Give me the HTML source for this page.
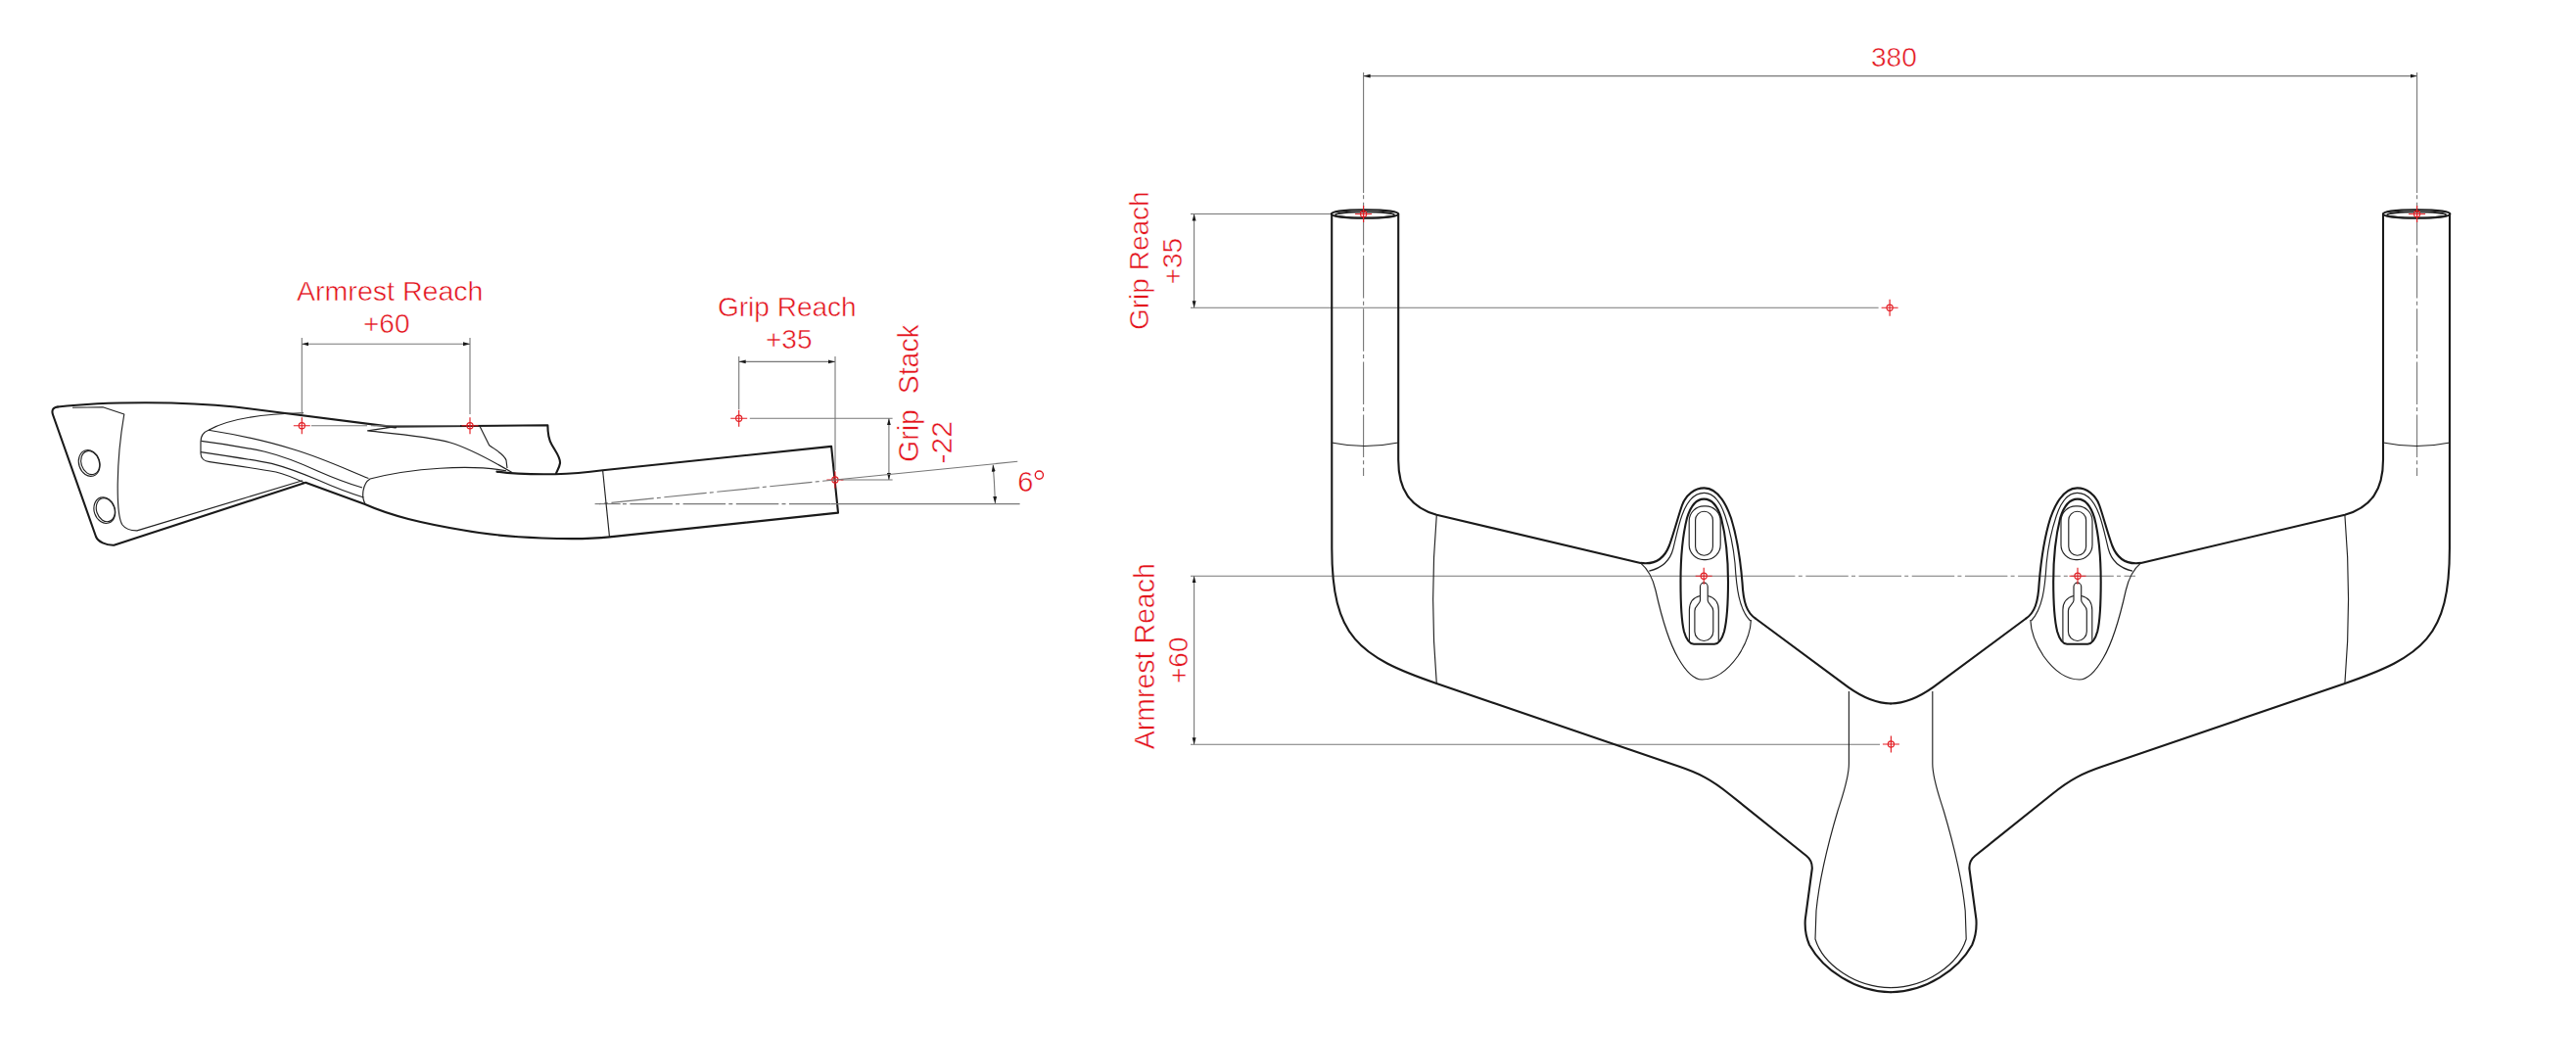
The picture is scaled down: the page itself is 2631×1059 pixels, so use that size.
<!DOCTYPE html>
<html><head><meta charset="utf-8"><style>
html,body{margin:0;padding:0;background:#fff;width:2631px;height:1059px;overflow:hidden}
svg{display:block}
.k{fill:none;stroke:#1a1a1a;stroke-width:2.1;stroke-linejoin:round;stroke-linecap:round}
.t{fill:none;stroke:#222;stroke-width:1.15;stroke-linejoin:round}
.d{fill:none;stroke:#777;stroke-width:1.1}
.dp{stroke-dasharray:4 3.5 43.5 3.2}
.dd{fill:none;stroke:#6a6a6a;stroke-width:1;stroke-dasharray:40 8 8 8}
.r{fill:none;stroke:#e31e24;stroke-width:1.15}
text{font-family:"Liberation Sans",sans-serif;font-size:28px;fill:#e3121c;stroke:#fff;stroke-width:0.5}
</style></head><body>
<svg width="2631" height="1059" viewBox="0 0 2631 1059">
<defs>
<marker id="a" viewBox="0 0 10 10" refX="10" refY="5" markerWidth="7" markerHeight="7" markerUnits="userSpaceOnUse" orient="auto-start-reverse"><path d="M0,2.2 L10,5 L0,7.8 Z" fill="#1a1a1a"/></marker>
<g id="x"><circle cx="0" cy="0" r="3.1" class="r"/><path d="M-8.5,0 H8.5 M0,-8.5 V8.5" class="r"/></g>
<g id="half">
<!-- tube -->
<ellipse class="k" cx="1394" cy="218.5" rx="34.2" ry="4.3"/>
<ellipse class="t" cx="1394" cy="219.4" rx="30" ry="3" style="stroke-width:1.8"/>
<path class="k" d="M1428.2,218.5 L1428.2,469.4 C1428.2,500 1440,518 1467.3,525.8 L1675.5,574.9 C1690,577 1700,570 1705,557 C1710,543 1714.4,526 1718,516 C1722,505 1731,498.4 1740.6,498.4 C1753,498.4 1762,512 1768,529 C1773,545 1777,565 1779.5,595 C1780.5,615 1784,626 1793.5,632 L1887.5,701.7 C1902,712 1916,718.5 1931.1,718.5"/>
<path class="k" d="M1360.2,218.5 L1360.3,560 C1360.3,650 1387.3,670.5 1467.3,697.9 L1715,782.8 C1735,789.6 1748,796 1766.3,811 L1845,874 C1850,878 1851,882 1850.8,887 L1843.8,938.8 C1843,950 1845,958 1848,965 C1862,990 1895,1013.2 1931.1,1013.2"/>
<path class="t" d="M1359.8,452 Q1394,459 1428.2,452"/>
<path class="t" d="M1467.3,526 Q1460,612 1467.3,698"/>
<!-- boss -->
<path class="t" d="M1684.3,583.1 C1698,580 1706,572 1709,560 C1712,548 1714,537 1718,526 C1723,512 1731,503.4 1740.6,503.4 C1750,503.4 1757,512 1762,527 C1767,542 1770,555 1772,575 C1773.5,600 1776,622 1787.7,634"/>
<path class="t" d="M1675.5,574.9 C1683,581 1688,590 1691,603 C1697,630 1704,655 1714,672 C1722,686 1730,694 1738.4,694 C1752,694 1765,684 1775,670 C1783,658 1788,645 1788.4,633"/>
<path class="k" d="M1740.3,509.6 C1733,509.6 1727,516 1723,529 C1719,545 1716.5,570 1716.5,594 C1716.5,615 1717.5,635 1720,645 C1722,652 1725,657.5 1730,657.8 L1751,657.8 C1756,657.5 1759,652 1761,645 C1763.5,635 1765,615 1765,594 C1765,570 1762,545 1758,529 C1754,516 1748,509.6 1740.3,509.6 Z"/>
<rect class="t" x="1731.6" y="522.2" width="17.8" height="45" rx="8.9"/>
<rect class="t" x="1725.2" y="516.9" width="32" height="54.7" rx="15"/>
<path class="t" d="M1736.5,613 L1736.5,599 A3.85,3.85 0 0 1 1744.2,599 L1744.2,613 C1744.2,617 1749.8,618 1749.8,624 L1749.8,645 A9.45,9.45 0 0 1 1730.9,645 L1730.9,624 C1730.9,618 1736.5,617 1736.5,613 Z"/>
<path class="t" d="M1725.4,655 L1725.4,623 C1725.4,614 1730,610 1736.5,608.5 M1744.2,608.5 C1750.5,610 1755.3,614 1755.3,623 L1755.3,655"/>
<!-- stem -->
<path class="t" d="M1888.4,706 L1888.4,780 C1888.4,795 1882,812 1877,828 C1866,865 1858,900 1855,930 L1854,959 C1862,985 1895,1008.6 1931.1,1008.6"/>
<path class="d" d="M1393,197 V486" style="stroke:#555;stroke-dasharray:40 6 8 6;opacity:0"/>
</g>
</defs>

<!-- ================= LEFT (side view) ================= -->
<g id="left">
<!-- main outline -->
<path class="k" d="M59,415.5 C110,409.5 190,410 240,415.5 C290,421.5 345,429 404,436.4"/>
<path class="k" d="M395,435.8 L559.4,434.3 C559.4,444 560.5,449 563.5,454 C568,462 572.5,467 572,473 C571.5,477 569,481 567.9,483.6"/>
<path class="k" d="M507.5,481.6 Q530,484.8 567,484.2 Q590,483.5 615.6,480.2 L849.1,455.9 L856,523.6 L622.5,548.4 C590,552 520,550 473.6,541.5 C430,534 400,527 372.9,515 L312,492.8"/>
<path class="k" d="M59,415.5 C54,416 52.5,419 54,423.5 L98,548 C100,553 108,557 116.4,556.7 L310.8,493.3"/>
<!-- clamp inner -->
<path class="t" d="M74,416.3 L105,415.8 L126.8,423 C123,445 120.5,470 120.2,494 C120,515 121,530 125,536 C128,540 134,542 140,541.9 L309,490.7"/>
<ellipse class="t" cx="91.2" cy="473" rx="10.6" ry="13.6" transform="rotate(-18 91.2 473)"/>
<ellipse class="t" cx="92.2" cy="472.6" rx="9.2" ry="12.3" transform="rotate(-18 92.2 472.6)"/>
<ellipse class="t" cx="106.8" cy="521.1" rx="10.6" ry="13.6" transform="rotate(-18 106.8 521.1)"/>
<ellipse class="t" cx="107.8" cy="520.7" rx="9.2" ry="12.3" transform="rotate(-18 107.8 520.7)"/>
<!-- pad -->
<path class="t" d="M310,421.8 C270,422.5 235,427 213,439.2 C206,442 205,447 205,451 L205,463 C205,468 209,471 214,471.6 C245,476 265,479 281.8,482 C292,484.5 298,487 311,493"/>
<path class="t" d="M213,439.2 C240,443.5 275,451 300,459 C330,468 355,480 376.4,488.5"/>
<path class="t" d="M205.4,450.4 C235,454 255,458 270.5,461.2 C290,466 305,472 325,481.2 C345,490 360,495 370,498"/>
<path class="t" d="M205,461.6 C235,466 260,470 277.5,473.4 C295,478 310,484 325,490.3 C340,497 355,503 371.5,508"/>
<!-- bar end ellipse -->
<path class="t" d="M517,480.7 C480,474 420,478 378,489 C370,494 369,508 373,514.5"/>
<!-- pointed piece -->
<path class="t" d="M404,435.6 L375.5,439.9 C405,443 440,446 460,452 C480,458 505,472 523,482.5"/>
<path class="t" d="M490,435.2 L499.7,454.7 C507,460 515,464 517,470 L518,478"/>

<!-- armrest reach dim -->
<path class="d" d="M308.3,345 V423 M480,345 V423"/>
<path class="d" d="M308.3,351.3 H480" marker-start="url(#a)" marker-end="url(#a)"/>
<path class="d" d="M318,434.7 H375 M379,434.7 H470" style="stroke-dasharray:none"/><path class="d" d="M381.5,434.7 h6.5" />
<use href="#x" x="308.3" y="434.7"/>
<use href="#x" x="480" y="434.7"/>
<text x="303" y="306.6" textLength="190.5" lengthAdjust="spacingAndGlyphs">Armrest Reach</text>
<text x="371" y="340.3">+60</text>

<!-- grip reach dim -->
<path class="d" d="M754.7,364 V418 M853,364 V480"/>
<path class="d" d="M754.7,369.4 H853" marker-start="url(#a)" marker-end="url(#a)"/>
<use href="#x" x="754.7" y="427.3"/>
<path class="d" d="M765.8,427.3 H911.6 M858.8,490 H911.6"/>
<path class="d" d="M907.9,427.3 V490" marker-start="url(#a)" marker-end="url(#a)"/>
<use href="#x" x="852.9" y="490"/>
<text x="733" y="322.9">Grip Reach</text>
<text x="782" y="356">+35</text>
<text transform="translate(938.3 472) rotate(-90)" style="font-size:30px" textLength="54" lengthAdjust="spacingAndGlyphs">Grip</text><text transform="translate(938.3 402.2) rotate(-90)" style="font-size:30px" textLength="71" lengthAdjust="spacingAndGlyphs">Stack</text>
<text transform="translate(971.6 473.5) rotate(-90)" style="font-size:30px">-22</text>
<!-- 6 deg -->
<path class="d dp" d="M612,514.6 L852.9,490" style="stroke-dashoffset:-5"/>
<path class="d" d="M852.9,490 L1039.3,471.3"/>
<path class="d" d="M607.6,514.6 H633.7"/><path class="d dp" d="M635.9,514.6 H848.4"/>
<path class="d" d="M848.4,514.6 H1041.6"/>
<path class="d" d="M1014.2,474.6 Q1015.8,494 1016.4,514" marker-start="url(#a)" marker-end="url(#a)"/>
<text x="1039.2" y="501.5" style="font-size:29px">6</text><circle cx="1061.4" cy="485.1" r="4.1" style="fill:none;stroke:#e3121c;stroke-width:1.35"/>
<!-- bar inner line -->
<path class="t" d="M615.6,480.2 L622.5,548.4"/>
</g>

<!-- ================= RIGHT (top view) ================= -->
<g id="right">
<!-- dims -->
<path class="d" d="M1392.6,74 V197 M2468.6,74 V197"/>
<path class="d dp" d="M1392.6,199.3 V486 M2468.6,199.3 V486"/>
<path class="d" d="M1392.6,77.6 H2468.6" marker-start="url(#a)" marker-end="url(#a)"/>
<text x="1911" y="67.8">380</text>
<path class="d" d="M1216,218.5 H1360 M1216,314.3 H1918.6"/>
<path class="d" d="M1219.6,218.5 V314.3" marker-start="url(#a)" marker-end="url(#a)"/>
<use href="#x" x="1930.1" y="314.3"/>
<text transform="translate(1173.4 337) rotate(-90)">Grip Reach</text>
<text transform="translate(1207.3 290.3) rotate(-90)">+35</text>
<path class="d" d="M1216,588.3 H1833.4"/>
<path class="d dp" d="M1836.8,588.3 H2181"/>
<path class="d" d="M1216,760.3 H1920"/>
<path class="d" d="M1219.6,588.3 V760.3" marker-start="url(#a)" marker-end="url(#a)"/>
<use href="#x" x="1931.4" y="760"/>
<text transform="translate(1179.2 765.2) rotate(-90)" style="font-size:29px" textLength="190" lengthAdjust="spacingAndGlyphs">Armrest Reach</text>
<text transform="translate(1212.5 698) rotate(-90)">+60</text>
<use href="#half"/>
<use href="#half" transform="translate(3862.2 0) scale(-1 1)"/>
<use href="#x" x="1392.6" y="218.5"/>
<use href="#x" x="2468.6" y="218.5"/>
<use href="#x" x="1740.2" y="588.3"/>
<use href="#x" x="2122" y="588.3"/>
</g>
</svg>
</body></html>
